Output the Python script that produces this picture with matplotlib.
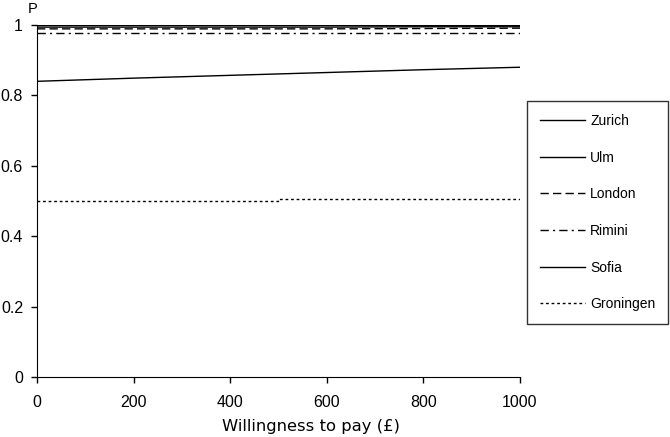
import numpy as np
import matplotlib
matplotlib.use("Agg")
import matplotlib.pyplot as plt

# willingness to pay (GBP) and probability P per city
wtp = [0, 200, 400, 600, 800, 1000]
zurich = [1.0, 1.0, 1.0, 1.0, 1.0, 1.0]
ulm = [0.994, 0.994, 0.994, 0.994, 0.995, 0.995]
london = [0.989, 0.989, 0.989, 0.989, 0.990, 0.991]
rimini = [0.976, 0.976, 0.976, 0.976, 0.976, 0.976]
sofia = [0.840, 0.849, 0.857, 0.865, 0.873, 0.880]
# Groningen jumps once, at about 500
groningen_wtp = [0, 500, 500, 1000]
groningen = [0.500, 0.500, 0.505, 0.505]

xticks = [0, 200, 400, 600, 800, 1000]
yticks = [0, 0.2, 0.4, 0.6, 0.8, 1]
ytick_labels = ["0", "0.2", "0.4", "0.6", "0.8", "1"]

plt.rcParams["font.family"] = ["Liberation Sans", "DejaVu Sans"]

fig = plt.figure(figsize=(6.7, 4.37), dpi=100)
ax = fig.add_axes([37 / 670, 1 - 377 / 437, (520 - 37) / 670, (377 - 25) / 437])

lw = 1.0
ax.plot(wtp, zurich, color="black", lw=lw, ls="-", label="Zurich")
ax.plot(wtp, ulm, color="black", lw=lw, ls="-", label="Ulm")
ax.plot(wtp, london, color="black", lw=lw, ls=(0, (6, 3)), label="London")
ax.plot(wtp, rimini, color="black", lw=lw, ls=(0, (6, 3, 1.5, 3)), label="Rimini")
ax.plot(wtp, sofia, color="black", lw=lw, ls="-", label="Sofia")
ax.plot(groningen_wtp, groningen, color="black", lw=lw, ls=(0, (2, 2)), label="Groningen")

ax.set_xlim(0, 1000)
ax.set_ylim(0, 1)
ax.set_xticks(xticks)
ax.set_yticks(yticks)
ax.set_yticklabels(ytick_labels)
ax.spines["top"].set_visible(False)
ax.spines["right"].set_visible(False)
ax.tick_params(direction="out", length=4, width=1, labelsize=11.5, colors="black")
ax.tick_params(axis="x", pad=9)
ax.tick_params(axis="y", pad=6)
fig.text(311 / 670, 1 - 427 / 437, "Willingness to pay (£)", family="DejaVu Sans",
         fontsize=11.8, ha="center", va="center")
fig.text(33 / 670, 1 - 9 / 437, "P", fontsize=10.5, ha="center", va="center")

leg = fig.legend(loc="upper left", bbox_to_anchor=(527 / 670, 1 - 101 / 437),
                 fontsize=10, frameon=True, fancybox=False, edgecolor="black",
                 handlelength=3.24, handletextpad=0.36, labelspacing=1.63,
                 borderpad=0.94, borderaxespad=0)
leg.get_frame().set_linewidth(1.0)

fig.savefig("out.png", dpi=100)
